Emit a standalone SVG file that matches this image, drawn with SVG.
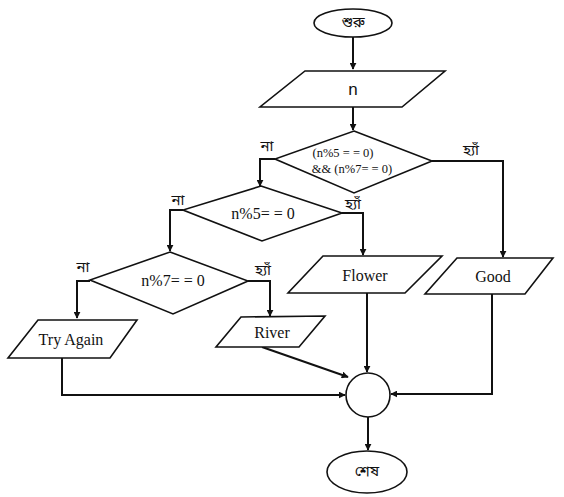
<svg xmlns="http://www.w3.org/2000/svg" width="564" height="497" viewBox="0 0 564 497">
<defs>
<marker id="ah" viewBox="0 0 10 10" refX="9" refY="5" markerWidth="7" markerHeight="7" markerUnits="userSpaceOnUse" orient="auto">
<path d="M0,0 L10,5 L0,10 z" fill="#111"/>
</marker>
</defs>
<style>
.sh{fill:#fff;stroke:#111;stroke-width:1.6}
.ln{fill:none;stroke:#111;stroke-width:2;marker-end:url(#ah)}
.t{font-family:"Liberation Serif","Times New Roman",serif;font-size:16px;fill:#111;text-anchor:middle;dominant-baseline:central}
.s{font-size:12.5px}
.bn{font-family:"Noto Sans Bengali","Lohit Bengali","Noto Sans",sans-serif;font-size:15px;fill:#111;text-anchor:middle;dominant-baseline:central}
</style>
<rect width="564" height="497" fill="#fff"/>
<g id="connectors">
<path class="ln" d="M353,36 V69"/>
<path class="ln" d="M353,107 V130"/>
<path class="ln" d="M275,159 H260 V186"/>
<path class="ln" d="M432,161 H503 V257"/>
<path class="ln" d="M342,213 H363 V255"/>
<path class="ln" d="M183,210 H170 V251"/>
<path class="ln" d="M90,281 H77 V318"/>
<path class="ln" d="M248,281 H270 V316"/>
<path class="ln" d="M367,293 V372"/>
<path class="ln" d="M262,347 L348,377"/>
<path class="ln" d="M62,358 V395 H345"/>
<path class="ln" d="M492,294 V394 H391"/>
<path class="ln" d="M368,417 V450"/>
</g>
<g id="start">
<ellipse class="sh" cx="353" cy="23" rx="39" ry="14"/>
<text class="bn" x="353" y="23">শুরু</text>
</g>
<g id="input">
<polygon class="sh" points="305,71 445,71 402,107 260,107"/>
<text class="t" x="353" y="89" style="font-family:'Liberation Sans',Arial,sans-serif;font-size:17px">n</text>
</g>
<g id="d1">
<polygon class="sh" points="354,131 432,161 354,193 275,159"/>
<text class="t s" x="343" y="153">(n%5 = = 0)</text>
<text class="t s" x="352" y="169">&amp;&amp; (n%7= = 0)</text>
<text class="bn" x="267" y="147">না</text>
<text class="bn" x="471" y="151">হ্যাঁ</text>
</g>
<g id="d2">
<polygon class="sh" points="261,186 342,213 262,241 183,210"/>
<text class="t" x="263" y="213">n%5= = 0</text>
<text class="bn" x="178" y="201">না</text>
<text class="bn" x="353" y="205">হ্যাঁ</text>
</g>
<g id="d3">
<polygon class="sh" points="170,252 248,281 173,314 90,280"/>
<text class="t" x="173" y="280">n%7= = 0</text>
<text class="bn" x="83" y="268">না</text>
<text class="bn" x="263" y="271">হ্যাঁ</text>
</g>
<g id="tryagain">
<polygon class="sh" points="38,320 137,320 110,358 8,358"/>
<text class="t" x="71" y="339">Try Again</text>
</g>
<g id="river">
<polygon class="sh" points="241,317 325,316 299,347 216,347"/>
<text class="t" x="272" y="332">River</text>
</g>
<g id="flower">
<polygon class="sh" points="323,256 442,256 405,293 288,293"/>
<text class="t" x="365" y="275">Flower</text>
</g>
<g id="good">
<polygon class="sh" points="457,258 553,258 525,294 425,294"/>
<text class="t" x="493" y="276">Good</text>
</g>
<g id="join">
<circle class="sh" cx="368" cy="395" r="22"/>
</g>
<g id="end">
<ellipse class="sh" cx="367" cy="472" rx="40" ry="21"/>
<text class="bn" x="367" y="472">শেষ</text>
</g>
</svg>
